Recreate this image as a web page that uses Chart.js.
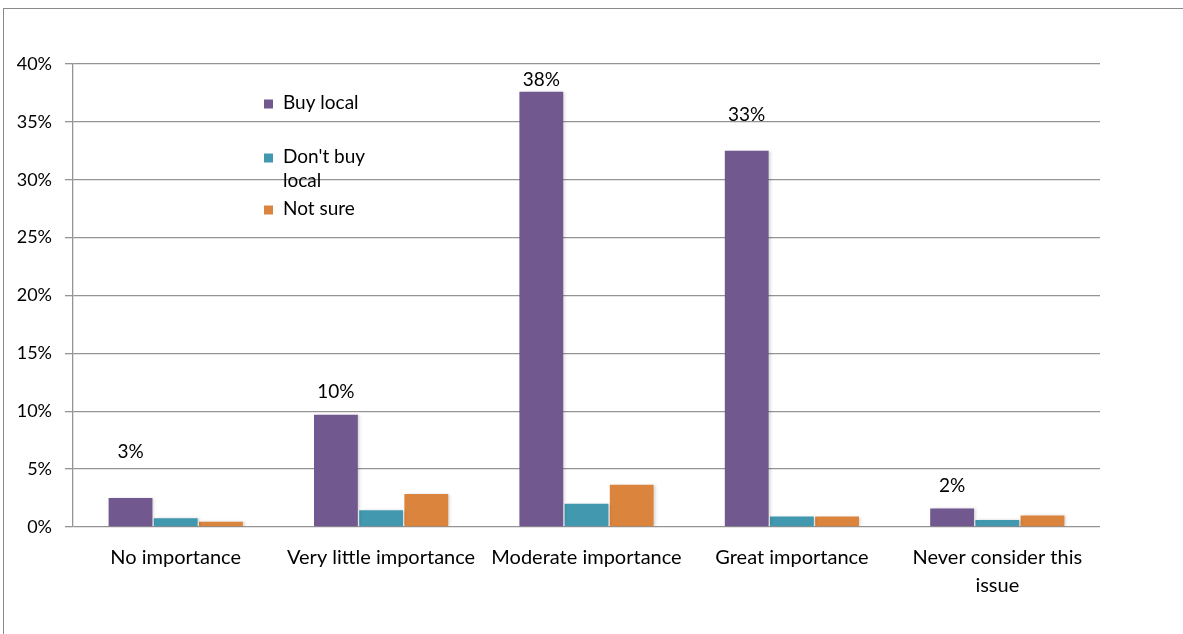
<!DOCTYPE html>
<html lang="en">
<head>
    <meta charset="UTF-8">
    <title>Importance of buying local</title>
    <script src="https://cdn.jsdelivr.net/npm/chart.js"></script>
    <style>
        body {
            margin: 0;
            background: #fff;
        }
        .wrap {
            position: relative;
            width: 1183px;
            height: 634px;
        }
        .frame {
            position: absolute;
            left: 3px;
            top: 8px;
            right: 0;
            bottom: 0;
            border-left: 1px solid #8a8a8a;
            border-top: 1px solid #8a8a8a;
        }
        canvas {
            position: absolute;
            left: 0;
            top: 0;
        }
    </style>
</head>
<body>
    <div class="wrap">
        <div class="frame"></div>
        <canvas id="chart" width="1183" height="634"></canvas>
    </div>

    <script>
        // Data (percent of respondents)
        const categories = [
            'No importance',
            'Very little importance',
            'Moderate importance',
            'Great importance',
            ['Never consider this', 'issue']
        ];
        const buyLocal = [2.5, 9.7, 37.6, 32.5, 1.6];
        const dontBuyLocal = [0.75, 1.45, 2.0, 0.9, 0.6];
        const notSure = [0.45, 2.85, 3.65, 0.9, 1.0];
        const yTicks = [0, 5, 10, 15, 20, 25, 30, 35, 40];

        const FONT = 'Lato, "Open Sans", sans-serif';

        // Value labels over the purple bars, lifted like in the original
        const labelLift = [46, 23, 12, 36, 23];
        const valueLabels = {
            id: 'valueLabels',
            afterDatasetsDraw(chart) {
                const ctx = chart.ctx;
                const meta = chart.getDatasetMeta(0);
                ctx.save();
                ctx.font = '19px ' + FONT;
                ctx.fillStyle = '#000';
                ctx.textAlign = 'center';
                ctx.textBaseline = 'middle';
                meta.data.forEach((bar, i) => {
                    const v = chart.data.datasets[0].data[i];
                    ctx.fillText(Math.round(v) + '%', bar.x, bar.y - labelLift[i]);
                });
                ctx.restore();
            }
        };

        // Legend drawn inside the plot, with wrapped text
        const sideLegend = {
            id: 'sideLegend',
            afterDraw(chart) {
                const ctx = chart.ctx;
                const rows = [103, 157, 209];
                const x = 264, box = 9, lineH = 24, maxW = 100;
                ctx.save();
                ctx.font = '19px ' + FONT;
                ctx.textBaseline = 'middle';
                chart.data.datasets.forEach((ds, i) => {
                    const y = rows[i];
                    ctx.fillStyle = ds.backgroundColor;
                    ctx.fillRect(x, y - box / 2 + 1, box, box);
                    // simple word wrap
                    const words = ds.label.split(' ');
                    const lines = [];
                    let line = '';
                    words.forEach(w => {
                        const test = line ? line + ' ' + w : w;
                        if (ctx.measureText(test).width > maxW && line) {
                            lines.push(line);
                            line = w;
                        } else {
                            line = test;
                        }
                    });
                    lines.push(line);
                    ctx.fillStyle = '#000';
                    lines.forEach((l, k) => ctx.fillText(l, x + 19, y + k * lineH));
                });
                ctx.restore();
            }
        };

        // Soft shadow on the bars
        const barShadow = {
            id: 'barShadow',
            beforeDatasetsDraw(chart) {
                const ctx = chart.ctx;
                ctx.save();
                ctx.shadowColor = 'rgba(0,0,0,0.18)';
                ctx.shadowBlur = 3;
                ctx.shadowOffsetX = 2;
                ctx.shadowOffsetY = 0;
            },
            afterDatasetsDraw(chart) {
                chart.ctx.restore();
            }
        };

        const ctx = document.getElementById('chart').getContext('2d');
        const chart = new Chart(ctx, {
            type: 'bar',
            data: {
                labels: categories,
                datasets: [
                    { label: 'Buy local', data: buyLocal, backgroundColor: '#71588f' },
                    { label: "Don't buy local", data: dontBuyLocal, backgroundColor: '#4198af' },
                    { label: 'Not sure', data: notSure, backgroundColor: '#db843d' }
                ]
            },
            options: {
                responsive: false,
                animation: false,
                devicePixelRatio: 1,
                layout: {
                    padding: { left: 0, right: 83, top: 64, bottom: 0 }
                },
                datasets: {
                    bar: {
                        categoryPercentage: 0.66,
                        barPercentage: 0.97
                    }
                },
                plugins: {
                    legend: { display: false },
                    tooltip: { enabled: false }
                },
                scales: {
                    x: {
                        grid: { display: false, drawTicks: false },
                        border: { display: false },
                        ticks: {
                            color: '#000',
                            font: { family: FONT, size: 20, lineHeight: 1.4 },
                            padding: 17,
                            maxRotation: 0,
                            autoSkip: false
                        },
                        afterFit(scale) { scale.height = 107; }
                    },
                    y: {
                        min: 0,
                        max: 40,
                        afterBuildTicks(scale) {
                            scale.ticks = yTicks.map(v => ({ value: v }));
                        },
                        grid: {
                            color: '#949494',
                            lineWidth: 1.3,
                            tickLength: 8
                        },
                        border: { display: true, color: '#949494', width: 1.3 },
                        ticks: {
                            color: '#000',
                            font: { family: FONT, size: 18 },
                            padding: 13,
                            callback: v => v + '%'
                        },
                        afterFit(scale) { scale.width = 73; }
                    }
                }
            },
            plugins: [barShadow, valueLabels, sideLegend]
        });
    </script>
</body>
</html>
